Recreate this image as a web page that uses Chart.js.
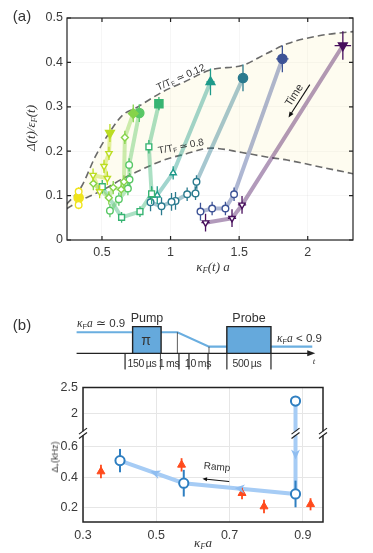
<!DOCTYPE html>
<html>
<head>
<meta charset="utf-8">
<script src="https://cdn.jsdelivr.net/npm/chart.js@4.4.1/dist/chart.umd.min.js"></script>
<style>
html, body { margin: 0; padding: 0; background: #fff; }
body { width: 373px; height: 553px; position: relative; overflow: hidden;
       font-family: "Liberation Sans", Arial, sans-serif; color: #333; }
.box { position: absolute; }
.lbl { position: absolute; white-space: nowrap; transform: translate(-50%, -50%); line-height: 1; }
.m { font-family: "Liberation Serif", "DejaVu Serif", serif; font-style: italic; }
sub { font-size: 65%; vertical-align: -0.25em; }
.dur { font-size: 10.5px; letter-spacing: -0.3px; }
</style>
</head>
<body>

<div class="box" style="left:0;top:0;width:373px;height:285px"><canvas id="chartA" width="373" height="285"></canvas></div>
<div class="box" style="left:60px;top:300px;width:313px;height:80px"><canvas id="chartSeq" width="313" height="80"></canvas></div>
<div class="box" style="left:0;top:375px;width:373px;height:178px"><canvas id="chartB" width="373" height="178"></canvas></div>

<!-- panel (a) labels -->
<div class="lbl" style="left:22px;top:15px;font-size:15px">(a)</div>
<div class="lbl m" style="left:31px;top:128px;font-size:13px;transform:translate(-50%,-50%) rotate(-90deg)">Δ(t)/ε<sub>F</sub>(t)</div>
<div class="lbl m" style="left:213px;top:267px;font-size:13px">κ<sub>F</sub>(t) a</div>
<div class="lbl" style="left:181px;top:78px;font-size:10px;transform:translate(-50%,-50%) rotate(-24deg)">T/T<sub>F</sub> ≃ 0.12</div>
<div class="lbl" style="left:181px;top:147px;font-size:10px;transform:translate(-50%,-50%) rotate(-11deg)">T/T<sub>F</sub> ≃ 0.8</div>
<div class="lbl" style="left:294px;top:95px;font-size:11px;transform:translate(-50%,-50%) rotate(-57deg)">Time</div>

<!-- panel (b) labels -->
<div class="lbl" style="left:22px;top:324px;font-size:15px">(b)</div>
<div class="lbl" style="left:147px;top:318px;font-size:12.5px">Pump</div>
<div class="lbl" style="left:249px;top:318px;font-size:12.5px">Probe</div>
<div class="lbl" style="left:146px;top:340px;font-size:14px;color:#333">π</div>
<div class="lbl" style="left:77px;top:324px;font-size:11.5px;transform:translate(0,-50%)"><span class="m">κ</span><sub>F</sub><span class="m">a</span> ≃ 0.9</div>
<div class="lbl" style="left:277px;top:339px;font-size:11.5px;transform:translate(0,-50%)"><span class="m">κ</span><sub>F</sub><span class="m">a</span> &lt; 0.9</div>
<div class="lbl m" style="left:314px;top:361px;font-size:9px">t</div>
<div class="lbl dur" style="left:142px;top:363px">150&#8201;µs</div>
<div class="lbl dur" style="left:169px;top:363px">1&#8201;ms</div>
<div class="lbl dur" style="left:198px;top:363px">10&#8201;ms</div>
<div class="lbl dur" style="left:247px;top:363px">500&#8201;µs</div>
<div class="lbl" style="left:56px;top:457px;font-size:9px;transform:translate(-50%,-50%) rotate(-90deg)">Δ<sub>+</sub>(kHz)</div>
<div class="lbl m" style="left:203px;top:543px;font-size:13px">κ<sub>F</sub>a</div>
<div class="lbl" style="left:217px;top:467px;font-size:10px;transform:translate(-50%,-50%) rotate(5deg)">Ramp</div>

<script>
Chart.defaults.font.family = '"Liberation Sans", Arial, sans-serif';
Chart.defaults.color = '#333';

// ---------- panel (a) data ----------
const aXTicks = [0.5, 1, 1.5, 2];
const aYTicks = [0, 0.1, 0.2, 0.3, 0.4, 0.5];

// each trajectory: first point is the start (filled marker)
const s1x = [0.33, 0.33, 0.33];
const s1y = [0.095, 0.109, 0.079];
const s1ey = [0.012, 0.01, 0.01];
const s1ex = [0.02, 0, 0];
const s2x = [0.558, 0.551, 0.515, 0.539, 0.435, 0.483];
const s2y = [0.241, 0.195, 0.166, 0.139, 0.146, 0.109];
const s2ey = [0.02, 0.015, 0.015, 0.015, 0.015, 0.015];
const s2ex = [0.015, 0.015, 0.015, 0.015, 0.015, 0.015];
const s3x = [0.728, 0.667, 0.66, 0.64, 0.582, 0.55, 0.437];
const s3y = [0.285, 0.231, 0.131, 0.114, 0.118, 0.095, 0.127];
const s3ey = [0.02, 0.015, 0.015, 0.015, 0.015, 0.015, 0.015];
const s3ex = [0.02, 0.015, 0.015, 0.015, 0.015, 0.015, 0.015];
const s4x = [0.772, 0.698, 0.701, 0.689, 0.623, 0.558];
const s4y = [0.286, 0.169, 0.136, 0.116, 0.092, 0.066];
const s4ey = [0.02, 0.015, 0.015, 0.015, 0.015, 0.015];
const s4ex = [0.02, 0.015, 0.015, 0.015, 0.015, 0.015];
const s5x = [0.915, 0.842, 0.862, 0.777, 0.643, 0.502];
const s5y = [0.307, 0.21, 0.104, 0.064, 0.051, 0.12];
const s5ey = [0.015, 0.015, 0.015, 0.012, 0.012, 0.015];
const s5ex = [0.02, 0.015, 0.015, 0.015, 0.015, 0.015];
const s6x = [1.291, 1.019, 0.903, 0.862];
const s6y = [0.356, 0.151, 0.101, 0.101];
const s6ey = [0.03, 0.015, 0.02, 0.02];
const s6ex = [0.03, 0.02, 0.015, 0.015];
const s7x = [1.528, 1.189, 1.182, 1.121, 1.036, 1.007, 0.934, 0.854];
const s7y = [0.365, 0.131, 0.105, 0.103, 0.088, 0.086, 0.076, 0.085];
const s7ey = [0.03, 0.015, 0.015, 0.015, 0.02, 0.02, 0.02, 0.02];
const s7ex = [0.03, 0.02, 0.02, 0.02, 0.02, 0.02, 0.02, 0.02];
const s8x = [1.815, 1.463, 1.40, 1.303, 1.218];
const s8y = [0.408, 0.103, 0.071, 0.071, 0.064];
const s8ey = [0.03, 0.015, 0.015, 0.015, 0.02];
const s8ex = [0.045, 0.02, 0.02, 0.02, 0.02];
const s9x = [2.256, 1.521, 1.448, 1.255];
const s9y = [0.438, 0.079, 0.049, 0.039];
const s9ey = [0.032, 0.02, 0.02, 0.02];
const s9ex = [0.06, 0.03, 0.03, 0.03];

// iso-temperature curves
const curveX = [0.24, 0.35, 0.45, 0.55, 0.65, 0.75, 0.95, 1.1, 1.3, 1.52, 1.7, 1.85, 2.1, 2.35];
const curveHot = [0.08, 0.12, 0.187, 0.24, 0.281, 0.298, 0.335, 0.356, 0.384, 0.393, 0.42, 0.442, 0.461, 0.47];
const curveCold = [0.07, 0.09, 0.104, 0.12, 0.138, 0.153, 0.18, 0.193, 0.207, 0.197, 0.187, 0.18, 0.164, 0.148];

// ---------- panel (b) data ----------
const bXTicks = [0.3, 0.5, 0.7, 0.9];
const bLowTicks = [0.2, 0.4, 0.6];
const bHighTicks = [2, 2.5];
const bRedX = [0.349, 0.569, 0.734, 0.794, 0.921];
const bRedY = [0.438, 0.482, 0.295, 0.207, 0.222];
const bRedErr = [0.044, 0.044, 0.04, 0.044, 0.04];
const bBlueX = [0.401, 0.575, 0.88];
const bBlueY = [0.51, 0.361, 0.29];
const bBlueErr = [0.077, 0.088, 0.088];
const bStartX = [0.88];
const bStartY = [2.24];

// pulse sequence (schematic time units)
const pulseT = [5.3, 23.2, 32.3, 37.5, 47.6, 53.3, 67.4, 80.6];
const levelY = [0.79, 0.25];
const bracketT = [20.8, 32.1, 38.0, 41.2, 47.3, 53.3, 67.4];

// ---------- helpers ----------
function hexA(hex, a) {
  const n = parseInt(hex.slice(1), 16);
  return 'rgba(' + (n >> 16) + ',' + ((n >> 8) & 255) + ',' + (n & 255) + ',' + a + ')';
}
function pts(xs, ys) { return xs.map((x, i) => ({x: x, y: ys[i]})); }

function arrow(ctx, x0, y0, x1, y1, head, color, width) {
  const ang = Math.atan2(y1 - y0, x1 - x0);
  ctx.save();
  ctx.strokeStyle = color; ctx.fillStyle = color; ctx.lineWidth = width;
  ctx.beginPath(); ctx.moveTo(x0, y0);
  ctx.lineTo(x1 - Math.cos(ang) * head * 0.8, y1 - Math.sin(ang) * head * 0.8); ctx.stroke();
  ctx.beginPath(); ctx.moveTo(x1, y1);
  ctx.lineTo(x1 - head * Math.cos(ang - 0.4), y1 - head * Math.sin(ang - 0.4));
  ctx.lineTo(x1 - head * Math.cos(ang + 0.4), y1 - head * Math.sin(ang + 0.4));
  ctx.closePath(); ctx.fill();
  ctx.restore();
}

// error bars drawn just below their markers
const errorBars = {
  id: 'errorBars',
  beforeDatasetDraw(chart, args) {
    const ds = chart.data.datasets[args.index];
    if (!ds.errY && !ds.errX) return;
    const xs = chart.scales[args.meta.xAxisID], ys = chart.scales[args.meta.yAxisID];
    const ctx = chart.ctx;
    ctx.save();
    ctx.strokeStyle = ds.errColor; ctx.lineWidth = ds.errWidth || 1.3;
    ds.data.forEach((p, i) => {
      const px = xs.getPixelForValue(p.x), py = ys.getPixelForValue(p.y);
      ctx.beginPath();
      if (ds.errY && ds.errY[i]) {
        ctx.moveTo(px, ys.getPixelForValue(p.y - ds.errY[i]));
        ctx.lineTo(px, ys.getPixelForValue(p.y + ds.errY[i]));
      }
      if (ds.errX && ds.errX[i]) {
        ctx.moveTo(xs.getPixelForValue(p.x - ds.errX[i]), py);
        ctx.lineTo(xs.getPixelForValue(p.x + ds.errX[i]), py);
      }
      ctx.stroke();
    });
    ctx.restore();
  }
};

// ---------- panel (a) ----------
const aSeries = [
  [s1x, s1y, s1ey, s1ex], [s2x, s2y, s2ey, s2ex], [s3x, s3y, s3ey, s3ex],
  [s4x, s4y, s4ey, s4ex], [s5x, s5y, s5ey, s5ex], [s6x, s6y, s6ey, s6ex],
  [s7x, s7y, s7ey, s7ex], [s8x, s8y, s8ey, s8ex], [s9x, s9y, s9ey, s9ex]
];
const aColors = ['#f0e41c', '#bcdd22', '#86d34a', '#58c765', '#37b472', '#1f9a8a', '#2a7a8e', '#3d5396', '#470e5c'];
const aStyles = ['circle', 'triangle', 'rectRot', 'circle', 'rect', 'triangle', 'circle', 'circle', 'triangle'];
const aRot = [0, 180, 0, 0, 0, 0, 0, 0, 180];
const aSize = [1, 1.1, 1.05, 1, 1.25, 1.1, 1, 1, 1.1];

const aData = [];
aSeries.forEach((s, i) => {
  const c = aColors[i];
  aData.push({
    data: pts(s[0], s[1]), showLine: false, order: 0,
    pointStyle: aStyles[i], pointRotation: aRot[i],
    pointRadius: s[0].map((_, j) => (j === 0 ? 4.6 : 3.3) * aSize[i]),
    pointBackgroundColor: s[0].map((_, j) => j === 0 ? c : '#fff'),
    pointBorderColor: c, pointBorderWidth: 1.4,
    errY: s[2], errX: s[3], errColor: c
  });
});
aSeries.forEach((s, i) => {
  aData.push({
    data: pts(s[0], s[1]), showLine: true, order: 1, pointRadius: 0,
    borderColor: hexA(aColors[i], 0.42), borderWidth: 4, borderJoinStyle: 'round'
  });
});
aData.push({
  data: pts(curveX, curveHot), showLine: true, order: 2, pointRadius: 0,
  borderColor: '#6a6a6a', borderWidth: 1.6, borderDash: [7, 4],
  cubicInterpolationMode: 'monotone', fill: '+1', backgroundColor: 'rgba(250,240,185,0.22)'
});
aData.push({
  data: pts(curveX, curveCold), showLine: true, order: 2, pointRadius: 0,
  borderColor: '#6a6a6a', borderWidth: 1.6, borderDash: [7, 4],
  cubicInterpolationMode: 'monotone', fill: false
});

const frameA = {
  id: 'frameA',
  afterDraw(chart) {
    const {ctx, chartArea: a, scales} = chart;
    ctx.save();
    ctx.strokeStyle = '#222'; ctx.lineWidth = 1.2;
    ctx.strokeRect(a.left, a.top, a.right - a.left, a.bottom - a.top);
    ctx.beginPath();
    aXTicks.forEach(v => {
      const x = scales.x.getPixelForValue(v);
      ctx.moveTo(x, a.bottom); ctx.lineTo(x, a.bottom - 4);
      ctx.moveTo(x, a.top); ctx.lineTo(x, a.top + 4);
    });
    aYTicks.forEach(v => {
      const y = scales.y.getPixelForValue(v);
      ctx.moveTo(a.left, y); ctx.lineTo(a.left + 4, y);
      ctx.moveTo(a.right, y); ctx.lineTo(a.right - 4, y);
    });
    ctx.stroke();
    ctx.restore();
    // "Time" arrow
    const x = scales.x, y = scales.y;
    arrow(ctx, x.getPixelForValue(2.015), y.getPixelForValue(0.35),
          x.getPixelForValue(1.86), y.getPixelForValue(0.276), 6, '#111', 1.1);
  }
};

new Chart(document.getElementById('chartA').getContext('2d'), {
  type: 'scatter',
  data: {datasets: aData},
  options: {
    responsive: false, animation: false, devicePixelRatio: 1,
    layout: {padding: {top: 18, right: 20, left: 0, bottom: 0}},
    plugins: {legend: {display: false}, tooltip: {enabled: false}, filler: {drawTime: 'beforeDatasetsDraw'}},
    scales: {
      x: {
        type: 'linear', min: 0.245, max: 2.33,
        afterBuildTicks: s => { s.ticks = aXTicks.map(v => ({value: v})); },
        afterFit: s => { s.height = 45; },
        ticks: {callback: v => String(v), autoSkip: false, maxRotation: 0, padding: 5, color: '#3a3a3a', font: {size: 12.5}},
        grid: {color: 'rgba(0,0,0,0.035)', drawTicks: false},
        border: {display: false}
      },
      y: {
        type: 'linear', min: 0, max: 0.5,
        afterBuildTicks: s => { s.ticks = aYTicks.map(v => ({value: v})); },
        afterFit: s => { s.width = 67; },
        ticks: {callback: v => String(v), autoSkip: false, padding: 4, color: '#3a3a3a', font: {size: 12.5}},
        grid: {color: 'rgba(0,0,0,0.035)', drawTicks: false},
        border: {display: false}
      }
    }
  },
  plugins: [errorBars, frameA]
});

// ---------- pulse sequence schematic ----------
const seqLines = (xs, y0, y1) => {
  const out = [];
  xs.forEach((x, i) => {
    out.push({x: x, y: y0}, {x: x, y: Array.isArray(y1) ? y1[i] : y1});
    out.push({x: x, y: null});
  });
  return out;
};
const seqArrow = {
  id: 'seqArrow',
  afterDatasetsDraw(chart) {
    const x = chart.scales.x, y = chart.scales.y;
    const px = x.getPixelForValue(pulseT[7]), py = y.getPixelForValue(0);
    const ctx = chart.ctx;
    ctx.save(); ctx.fillStyle = '#222';
    ctx.beginPath(); ctx.moveTo(px + 3, py); ctx.lineTo(px - 5, py - 3); ctx.lineTo(px - 5, py + 3);
    ctx.closePath(); ctx.fill(); ctx.restore();
  }
};
new Chart(document.getElementById('chartSeq').getContext('2d'), {
  type: 'scatter',
  data: {datasets: [
    {data: pts([pulseT[0], pulseT[7]], [0, 0]), showLine: true, pointRadius: 0, borderColor: '#222', borderWidth: 1.2, order: 0},
    {data: pts([pulseT[1], pulseT[1], pulseT[2], pulseT[2]], [0, 1, 1, 0]), showLine: true, pointRadius: 0,
     borderColor: '#222', borderWidth: 1.4, fill: 'origin', backgroundColor: '#65a9dc', order: 1},
    {data: pts([pulseT[5], pulseT[5], pulseT[6], pulseT[6]], [0, 1, 1, 0]), showLine: true, pointRadius: 0,
     borderColor: '#222', borderWidth: 1.4, fill: 'origin', backgroundColor: '#65a9dc', order: 1},
    {data: seqLines([pulseT[3], pulseT[4]], 0, levelY), showLine: true, pointRadius: 0, borderColor: '#333', borderWidth: 0.8, order: 2},
    {data: seqLines(bracketT, 0, -0.6), showLine: true, pointRadius: 0, borderColor: '#555', borderWidth: 0.8, order: 2},
    {data: pts([pulseT[0], pulseT[3], pulseT[4], pulseT[7]], [levelY[0], levelY[0], levelY[1], levelY[1]]),
     showLine: true, pointRadius: 0, borderColor: '#6aaee0', borderWidth: 2.2, order: 3}
  ]},
  options: {
    responsive: false, animation: false, devicePixelRatio: 1,
    layout: {padding: 0},
    plugins: {legend: {display: false}, tooltip: {enabled: false}},
    scales: {
      x: {type: 'linear', min: 0, max: 100, display: false},
      y: {type: 'linear', min: -1, max: 2, display: false}
    }
  },
  plugins: [seqArrow]
});

// ---------- panel (b) ----------
const yLowMin = 0.105, yLowMax = 0.69, yHighMin = 1.62, yHighMax = 2.5;
const rampLow = [{x: bStartX[0], y: yLowMax}].concat(pts(bBlueX, bBlueY).reverse());
const rampHigh = [{x: bStartX[0], y: bStartY[0]}, {x: bStartX[0], y: yHighMin}];
const rampColor = '#a6ccf5';

const decorB = {
  id: 'decorB',
  afterDatasetsDraw(chart) {
    const {ctx, scales} = chart;
    const x = scales.x, y = scales.yLow;
    // arrowheads along the ramp
    const frac = [0.35, 0.5, 0.45];
    ctx.save(); ctx.fillStyle = '#8fbdf0';
    for (let i = 0; i < rampLow.length - 1; i++) {
      const x0 = x.getPixelForValue(rampLow[i].x), y0 = y.getPixelForValue(rampLow[i].y);
      const x1 = x.getPixelForValue(rampLow[i + 1].x), y1 = y.getPixelForValue(rampLow[i + 1].y);
      const mx = x0 + (x1 - x0) * frac[i], my = y0 + (y1 - y0) * frac[i];
      const ang = Math.atan2(y1 - y0, x1 - x0);
      ctx.beginPath();
      ctx.moveTo(mx + 5 * Math.cos(ang), my + 5 * Math.sin(ang));
      ctx.lineTo(mx - 5 * Math.cos(ang) - 4.5 * Math.sin(ang), my - 5 * Math.sin(ang) + 4.5 * Math.cos(ang));
      ctx.lineTo(mx - 2 * Math.cos(ang), my - 2 * Math.sin(ang));
      ctx.lineTo(mx - 5 * Math.cos(ang) + 4.5 * Math.sin(ang), my - 5 * Math.sin(ang) - 4.5 * Math.cos(ang));
      ctx.closePath(); ctx.fill();
    }
    ctx.restore();
    // "Ramp" arrow
    arrow(ctx, x.getPixelForValue(0.699), y.getPixelForValue(0.372),
          x.getPixelForValue(0.626), y.getPixelForValue(0.39), 5, '#111', 1);
  },
  afterDraw(chart) {
    const {ctx, chartArea: a, scales} = chart;
    ctx.save();
    ctx.strokeStyle = '#222'; ctx.lineWidth = 1.5;
    ctx.strokeRect(a.left, a.top, a.right - a.left, a.bottom - a.top);
    const yb = scales.yLow.top;
    [a.left, a.right, scales.x.getPixelForValue(bStartX[0])].forEach(px => {
      ctx.fillStyle = '#fff';
      ctx.fillRect(px - 3, yb - 2, 6, 4);
      ctx.beginPath(); ctx.lineWidth = 1.2;
      [-2.2, 2.2].forEach(d => { ctx.moveTo(px - 4, yb + d + 3); ctx.lineTo(px + 4, yb + d - 3); });
      ctx.stroke();
    });
    ctx.restore();
  }
};

const gridB = {color: '#e6e6e6', drawTicks: false};
new Chart(document.getElementById('chartB').getContext('2d'), {
  type: 'scatter',
  data: {datasets: [
    {data: pts(bBlueX, bBlueY), yAxisID: 'yLow', order: 0, pointRadius: 4.6, pointBorderWidth: 2,
     pointBackgroundColor: '#fff', pointBorderColor: '#2f7fc1', errY: bBlueErr, errColor: '#2f7fc1', errWidth: 2},
    {data: pts(bStartX, bStartY), yAxisID: 'yHigh', order: 0, pointRadius: 4.6, pointBorderWidth: 2,
     pointBackgroundColor: '#fff', pointBorderColor: '#2f7fc1'},
    {data: pts(bRedX, bRedY), yAxisID: 'yLow', order: 0, pointStyle: 'triangle', pointRadius: 4.6,
     pointBackgroundColor: '#ff4a1c', pointBorderColor: '#ff4a1c', errY: bRedErr, errColor: '#ff4a1c', errWidth: 1.8},
    {data: rampLow, yAxisID: 'yLow', showLine: true, pointRadius: 0, borderColor: rampColor, borderWidth: 4, order: 1},
    {data: rampHigh, yAxisID: 'yHigh', showLine: true, pointRadius: 0, borderColor: rampColor, borderWidth: 4, order: 1}
  ]},
  options: {
    responsive: false, animation: false, devicePixelRatio: 1,
    layout: {padding: {top: 12, right: 50, left: 0, bottom: 0}},
    plugins: {legend: {display: false}, tooltip: {enabled: false}},
    scales: {
      x: {
        type: 'linear', min: 0.3, max: 0.955,
        afterBuildTicks: s => { s.ticks = bXTicks.map(v => ({value: v})); },
        afterFit: s => { s.height = 31; },
        ticks: {callback: v => String(v), autoSkip: false, maxRotation: 0, padding: 6, color: '#3a3a3a', font: {size: 12.5}},
        grid: gridB, border: {display: false}
      },
      yLow: {
        type: 'linear', position: 'left', stack: 'y', stackWeight: 89, min: yLowMin, max: yLowMax,
        afterBuildTicks: s => { s.ticks = bLowTicks.map(v => ({value: v})); },
        afterFit: s => { s.width = 83; },
        ticks: {callback: v => String(v), autoSkip: false, padding: 5, color: '#3a3a3a', font: {size: 12.5}},
        grid: gridB, border: {display: false}
      },
      yHigh: {
        type: 'linear', position: 'left', stack: 'y', stackWeight: 46, min: yHighMin, max: yHighMax,
        afterBuildTicks: s => { s.ticks = bHighTicks.map(v => ({value: v})); },
        afterFit: s => { s.width = 83; },
        ticks: {callback: v => String(v), autoSkip: false, padding: 5, color: '#3a3a3a', font: {size: 12.5}},
        grid: gridB, border: {display: false}
      }
    }
  },
  plugins: [errorBars, decorB]
});
</script>
</body>
</html>
